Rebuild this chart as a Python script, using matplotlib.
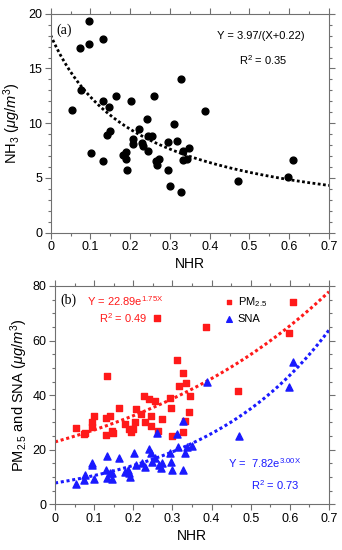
import numpy as np
import matplotlib
matplotlib.use('Agg')
import matplotlib.pyplot as plt
from matplotlib.ticker import MultipleLocator

plt.rcParams['font.family'] = ['Liberation Sans', 'DejaVu Sans']
plt.rcParams['mathtext.fontset'] = 'custom'
plt.rcParams['mathtext.rm'] = 'Liberation Sans'
plt.rcParams['mathtext.it'] = 'Liberation Sans:italic'

# panel (a): NH3 vs NHR
nhr_a = [0.054, 0.074, 0.076, 0.097, 0.097, 0.132, 0.131, 0.147, 0.165, 0.203,
         0.260, 0.328, 0.387, 0.242, 0.222, 0.311, 0.149, 0.143, 0.246, 0.256,
         0.101, 0.131, 0.181, 0.190, 0.190, 0.193, 0.208, 0.208, 0.229, 0.233,
         0.246, 0.265, 0.268, 0.273, 0.295, 0.296, 0.299, 0.317, 0.328, 0.332,
         0.334, 0.344, 0.348, 0.470, 0.598, 0.609]
nh3 = [11.2, 16.9, 13.0, 19.3, 17.2, 17.7, 12.0, 11.5, 12.5, 12.0,
       12.5, 14.0, 11.1, 10.4, 9.5, 9.95, 9.3, 8.9, 8.8, 8.85,
       7.3, 6.55, 7.1, 7.4, 6.75, 5.7, 8.55, 8.1, 8.2, 7.95,
       7.5, 6.55, 6.2, 6.7, 8.25, 5.7, 4.3, 8.4, 3.75, 6.65,
       7.5, 6.7, 7.7, 4.7, 5.1, 6.6]

# panel (b): PM2.5 and SNA vs NHR
nhr_pm = [0.260, 0.386, 0.609, 0.599, 0.132, 0.311, 0.328, 0.334, 0.317, 0.346,
          0.227, 0.241, 0.255, 0.293, 0.468, 0.164, 0.207, 0.296, 0.054, 0.074,
          0.077, 0.094, 0.095, 0.100, 0.130, 0.130, 0.141, 0.146, 0.149, 0.179,
          0.189, 0.194, 0.198, 0.203, 0.220, 0.230, 0.245, 0.245, 0.264, 0.273,
          0.298, 0.328, 0.332, 0.342]
pm25 = [68.1, 65.1, 74.2, 62.9, 47.0, 52.9, 48.0, 44.3, 43.5, 39.8,
        39.7, 38.5, 37.9, 38.9, 41.6, 35.2, 34.8, 35.3, 28.1, 25.6,
        26.0, 30.0, 28.4, 32.3, 31.5, 25.4, 32.5, 26.8, 26.0, 29.3,
        27.6, 26.6, 27.6, 30.0, 33.1, 30.0, 32.5, 28.8, 27.0, 31.3,
        25.1, 26.4, 30.5, 33.9]

nhr_sna = [0.054, 0.074, 0.077, 0.094, 0.095, 0.100, 0.130, 0.132, 0.132, 0.141,
           0.146, 0.146, 0.164, 0.179, 0.187, 0.189, 0.192, 0.202, 0.206, 0.223,
           0.230, 0.241, 0.245, 0.255, 0.247, 0.266, 0.273, 0.271, 0.294, 0.297,
           0.298, 0.315, 0.326, 0.332, 0.338, 0.349, 0.260, 0.311, 0.328, 0.470,
           0.388, 0.609, 0.598]
sna = [7.4, 8.9, 10.7, 14.4, 15.0, 9.3, 12.6, 17.7, 9.5, 11.4,
       11.6, 9.3, 16.8, 11.9, 12.6, 11.4, 9.9, 18.7, 14.4, 15.2,
       13.8, 20.3, 18.7, 16.8, 15.6, 14.4, 15.0, 13.4, 18.7, 15.6,
       12.6, 20.9, 12.6, 18.7, 20.9, 21.4, 26.2, 25.6, 30.5, 25.1,
       44.7, 52.2, 43.1]

spine_col = '#707070'
red = '#ff1a1a'
blue = '#1a1aff'


def style_axes(ax, ymax, ymajor, yminor):
    ax.set_xlim(0, 0.7)
    ax.set_ylim(0, ymax)
    ax.xaxis.set_major_locator(MultipleLocator(0.1))
    ax.xaxis.set_minor_locator(MultipleLocator(0.05))
    ax.yaxis.set_major_locator(MultipleLocator(ymajor))
    ax.yaxis.set_minor_locator(MultipleLocator(yminor))
    ax.xaxis.set_major_formatter(plt.FuncFormatter(lambda v, p: '0' if abs(v) < 1e-9 else f'{v:.1f}'))
    ax.tick_params(which='both', direction='out', top=True, right=True,
                   color=spine_col, labelsize=9, pad=2)
    ax.tick_params(which='major', length=4, width=0.8)
    ax.tick_params(which='minor', length=2.5, width=0.8)
    for s in ax.spines.values():
        s.set_color(spine_col)
        s.set_linewidth(0.8)
    ax.set_xlabel('NHR', fontsize=10, labelpad=3)


fig = plt.figure(figsize=(3.42, 5.5), dpi=100)

# (a)
ax1 = fig.add_axes([0.148, 0.577, 0.814, 0.398])
xx = np.linspace(0, 0.7, 200)
ax1.plot(xx, 3.97 / (xx + 0.22), color='black', lw=2, ls=(0, (1, 0.9)))
ax1.scatter(nhr_a, nh3, s=24, color='black', zorder=3)
style_axes(ax1, 20, 5, 1)
ax1.set_ylabel(r'NH$_3$ $(\mathit{\mu g/m^3})$', fontsize=10.5, labelpad=4)
ax1.text(0.02, 0.925, '(a)', transform=ax1.transAxes, fontsize=10,
         family='Liberation Serif', va='center')
ax1.text(0.755, 0.9, 'Y = 3.97/(X+0.22)', transform=ax1.transAxes,
         fontsize=8, ha='center', va='center')
ax1.text(0.765, 0.79, r'R$^2$ = 0.35', transform=ax1.transAxes,
         fontsize=8, ha='center', va='center')

# (b)
ax2 = fig.add_axes([0.161, 0.083, 0.801, 0.397])
ax2.plot(xx, 22.89 * np.exp(1.75 * xx), color=red, lw=2.2, ls=(0, (1, 0.9)))
ax2.plot(xx, 7.82 * np.exp(3.00 * xx), color=blue, lw=2.2, ls=(0, (1, 0.9)))
ax2.scatter(nhr_pm, pm25, s=13, marker='s', color=red, zorder=3, label='PM$_{2.5}$')
ax2.scatter(nhr_sna, sna, s=26, marker='^', color=blue, zorder=3, label='SNA')
style_axes(ax2, 80, 20, 5)
ax2.set_ylabel(r'PM$_{2.5}$ and SNA $(\mathit{\mu g/m^3})$', fontsize=10.5, labelpad=2)
ax2.text(0.02, 0.935, '(b)', transform=ax2.transAxes, fontsize=10,
         family='Liberation Serif', va='center')
ax2.text(0.115, 0.93, r'Y = 22.89e$^{\mathrm{1.75X}}$', transform=ax2.transAxes,
         fontsize=8, color=red, va='center')
ax2.text(0.16, 0.855, r'R$^2$ = 0.49', transform=ax2.transAxes,
         fontsize=8, color=red, va='center')
ax2.text(0.63, 0.19, r'Y =  7.82e$^{\mathrm{3.00X}}$', transform=ax2.transAxes,
         fontsize=8, color=blue, va='center')
ax2.text(0.715, 0.09, r'R$^2$ = 0.73', transform=ax2.transAxes,
         fontsize=8, color=blue, va='center')
ax2.legend(loc='upper left', bbox_to_anchor=(0.57, 0.99), frameon=False,
           fontsize=8, handletextpad=-0.2, markerscale=0.8, labelspacing=0.5,
           borderaxespad=0.2)

fig.savefig('out.png', dpi=100)
